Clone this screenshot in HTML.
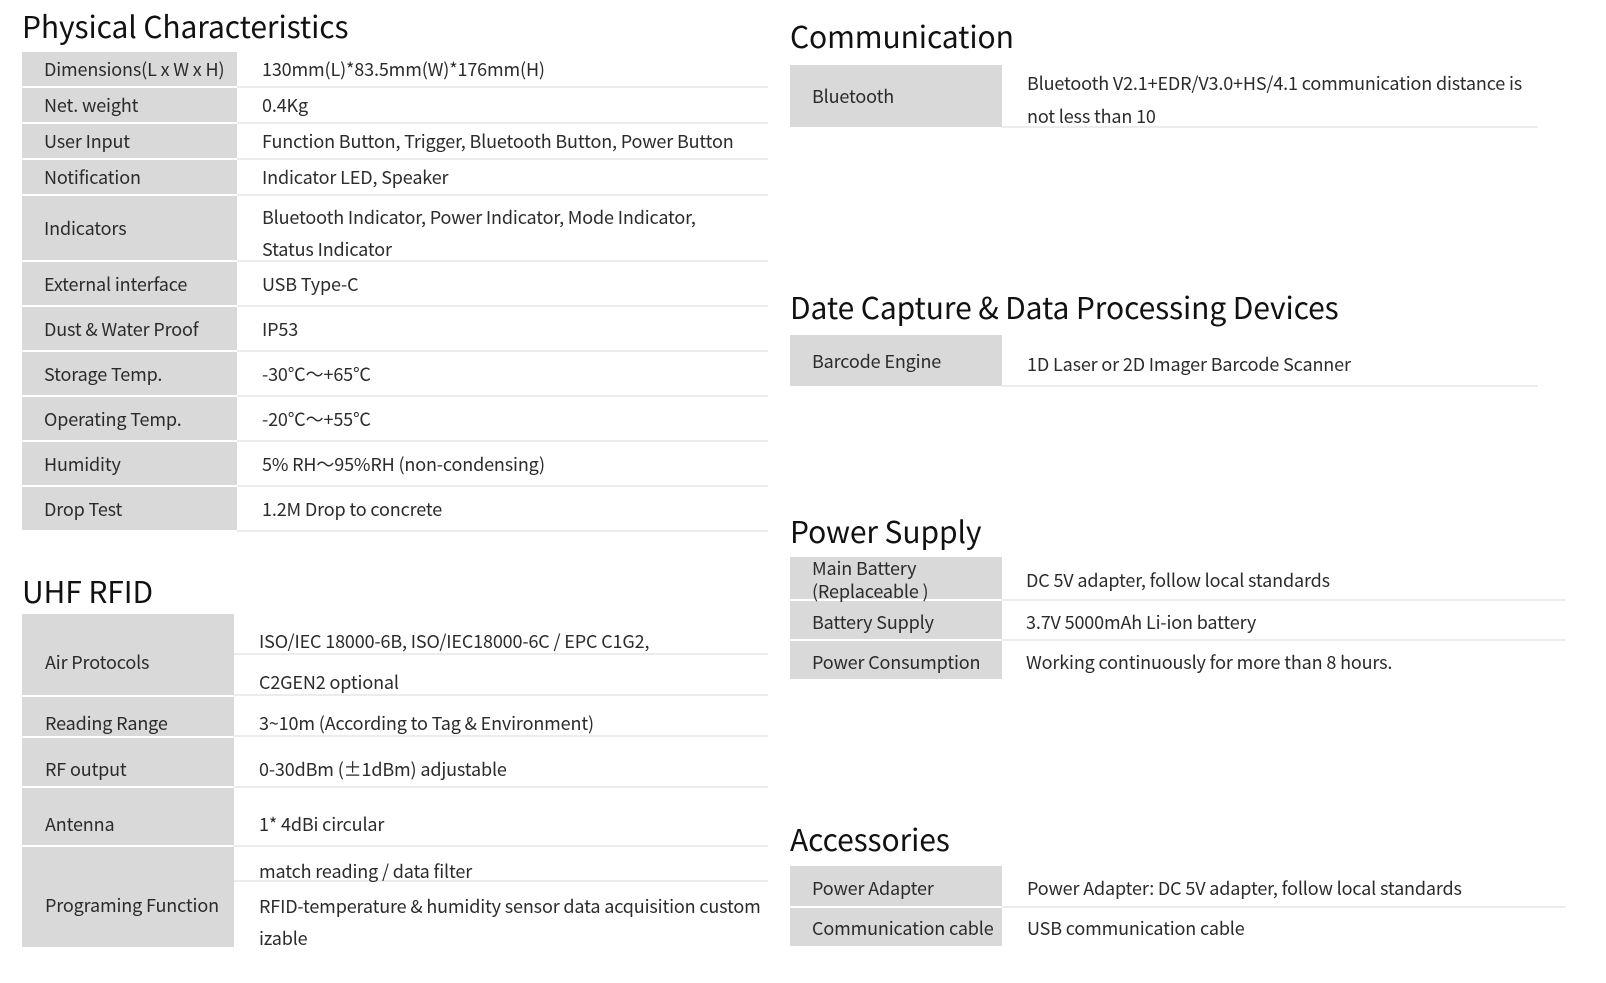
<!DOCTYPE html>
<html><head><meta charset="utf-8"><style>
body{margin:0;width:1606px;height:983px;background:#fff;position:relative;overflow:hidden;font-family:"Noto Sans CJK SC","Liberation Sans",sans-serif;color:#2b2b2b}
.g{position:absolute;background:#d9d9d9}
.ln{position:absolute;height:2px;background:#ececec}
.t{position:absolute;font-size:18px;letter-spacing:-0.15px;line-height:30px;height:30px;white-space:nowrap}
.h{position:absolute;font-size:30px;letter-spacing:-0.1px;line-height:40px;white-space:nowrap;color:#111}
</style></head><body>
<div class="h" style="left:22px;top:5px">Physical Characteristics</div>
<div class="g" style="left:22px;top:52px;width:215px;height:34px"></div>
<div class="g" style="left:22px;top:88px;width:215px;height:34px"></div>
<div class="g" style="left:22px;top:124px;width:215px;height:34px"></div>
<div class="g" style="left:22px;top:160px;width:215px;height:34px"></div>
<div class="g" style="left:22px;top:196px;width:215px;height:64px"></div>
<div class="g" style="left:22px;top:262px;width:215px;height:43px"></div>
<div class="g" style="left:22px;top:307px;width:215px;height:43px"></div>
<div class="g" style="left:22px;top:352px;width:215px;height:43px"></div>
<div class="g" style="left:22px;top:397px;width:215px;height:43px"></div>
<div class="g" style="left:22px;top:442px;width:215px;height:43px"></div>
<div class="g" style="left:22px;top:487px;width:215px;height:43px"></div>
<div class="ln" style="left:237px;top:86px;width:531px"></div>
<div class="ln" style="left:237px;top:122px;width:531px"></div>
<div class="ln" style="left:237px;top:158px;width:531px"></div>
<div class="ln" style="left:237px;top:194px;width:531px"></div>
<div class="ln" style="left:237px;top:260px;width:531px"></div>
<div class="ln" style="left:237px;top:305px;width:531px"></div>
<div class="ln" style="left:237px;top:350px;width:531px"></div>
<div class="ln" style="left:237px;top:395px;width:531px"></div>
<div class="ln" style="left:237px;top:440px;width:531px"></div>
<div class="ln" style="left:237px;top:485px;width:531px"></div>
<div class="ln" style="left:237px;top:530px;width:531px"></div>
<div class="t" style="left:44px;top:54px">Dimensions(L x W x H)</div><div class="t" style="left:262px;top:54px">130mm(L)*83.5mm(W)*176mm(H)</div>
<div class="t" style="left:44px;top:90px">Net. weight</div><div class="t" style="left:262px;top:90px">0.4Kg</div>
<div class="t" style="left:44px;top:126px">User Input</div><div class="t" style="left:262px;top:126px">Function Button, Trigger, Bluetooth Button, Power Button</div>
<div class="t" style="left:44px;top:162px">Notification</div><div class="t" style="left:262px;top:162px">Indicator LED, Speaker</div>
<div class="t" style="left:44px;top:213px">Indicators</div><div class="t" style="left:262px;top:202px">Bluetooth Indicator, Power Indicator, Mode Indicator,</div><div class="t" style="left:262px;top:234px">Status Indicator</div>
<div class="t" style="left:44px;top:269px">External interface</div><div class="t" style="left:262px;top:269px">USB Type-C</div>
<div class="t" style="left:44px;top:314px">Dust &amp; Water Proof</div><div class="t" style="left:262px;top:314px">IP53</div>
<div class="t" style="left:44px;top:359px">Storage Temp.</div><div class="t" style="left:262px;top:359px">-30℃～+65℃</div>
<div class="t" style="left:44px;top:404px">Operating Temp.</div><div class="t" style="left:262px;top:404px">-20℃～+55℃</div>
<div class="t" style="left:44px;top:449px">Humidity</div><div class="t" style="left:262px;top:449px">5% RH～95%RH (non-condensing)</div>
<div class="t" style="left:44px;top:494px">Drop Test</div><div class="t" style="left:262px;top:494px">1.2M Drop to concrete</div>

<div class="h" style="left:22px;top:570px">UHF RFID</div>
<div class="g" style="left:22px;top:614px;width:212px;height:81px"></div>
<div class="g" style="left:22px;top:697px;width:212px;height:39px"></div>
<div class="g" style="left:22px;top:738px;width:212px;height:48px"></div>
<div class="g" style="left:22px;top:788px;width:212px;height:57px"></div>
<div class="g" style="left:22px;top:847px;width:212px;height:100px"></div>
<div class="ln" style="left:234px;top:653px;width:534px"></div>
<div class="ln" style="left:234px;top:694px;width:534px"></div>
<div class="ln" style="left:234px;top:735px;width:534px"></div>
<div class="ln" style="left:234px;top:786px;width:534px"></div>
<div class="ln" style="left:234px;top:845px;width:534px"></div>
<div class="ln" style="left:234px;top:880px;width:534px"></div>
<div class="t" style="left:45px;top:647px">Air Protocols</div><div class="t" style="left:259px;top:626px">ISO/IEC 18000-6B, ISO/IEC18000-6C / EPC C1G2,</div><div class="t" style="left:259px;top:667px">C2GEN2 optional</div>
<div class="t" style="left:45px;top:708px">Reading Range</div><div class="t" style="left:259px;top:708px">3~10m (According to Tag &amp; Environment)</div>
<div class="t" style="left:45px;top:754px">RF output</div><div class="t" style="left:259px;top:754px">0-30dBm (±1dBm) adjustable</div>
<div class="t" style="left:45px;top:809px">Antenna</div><div class="t" style="left:259px;top:809px">1* 4dBi circular</div>
<div class="t" style="left:45px;top:890px">Programing Function</div><div class="t" style="left:259px;top:856px">match reading / data filter</div><div class="t" style="left:259px;top:891px">RFID-temperature &amp; humidity sensor data acquisition custom</div><div class="t" style="left:259px;top:923px">izable</div>

<div class="h" style="left:790px;top:15px">Communication</div>
<div class="g" style="left:790px;top:65px;width:212px;height:62px"></div>
<div class="ln" style="left:1002px;top:126px;width:536px"></div>
<div class="t" style="left:812px;top:81px">Bluetooth</div><div class="t" style="left:1027px;top:68px">Bluetooth V2.1+EDR/V3.0+HS/4.1 communication distance is</div><div class="t" style="left:1027px;top:101px">not less than 10</div>

<div class="h" style="left:790px;top:286px">Date Capture &amp; Data Processing Devices</div>
<div class="g" style="left:790px;top:335px;width:212px;height:51px"></div>
<div class="ln" style="left:1002px;top:385px;width:536px"></div>
<div class="t" style="left:812px;top:346px">Barcode Engine</div><div class="t" style="left:1027px;top:349px">1D Laser or 2D Imager Barcode Scanner</div>

<div class="h" style="left:790px;top:510px">Power Supply</div>
<div class="g" style="left:790px;top:557px;width:212px;height:42px"></div>
<div class="g" style="left:790px;top:601px;width:212px;height:38px"></div>
<div class="g" style="left:790px;top:641px;width:212px;height:38px"></div>
<div class="ln" style="left:1002px;top:599px;width:564px"></div>
<div class="ln" style="left:1002px;top:639px;width:564px"></div>
<div class="t" style="left:812px;top:557px;line-height:23px">Main Battery</div><div class="t" style="left:812px;top:580px;line-height:23px">(Replaceable )</div><div class="t" style="left:1026px;top:565px">DC 5V adapter, follow local standards</div>
<div class="t" style="left:812px;top:607px">Battery Supply</div><div class="t" style="left:1026px;top:607px">3.7V 5000mAh Li-ion battery</div>
<div class="t" style="left:812px;top:647px">Power Consumption</div><div class="t" style="left:1026px;top:647px">Working continuously for more than 8 hours.</div>

<div class="h" style="left:790px;top:818px">Accessories</div>
<div class="g" style="left:790px;top:866px;width:212px;height:40px"></div>
<div class="g" style="left:790px;top:908px;width:212px;height:38px"></div>
<div class="ln" style="left:1002px;top:906px;width:564px"></div>
<div class="t" style="left:812px;top:873px">Power Adapter</div><div class="t" style="left:1027px;top:873px">Power Adapter: DC 5V adapter, follow local standards</div>
<div class="t" style="left:812px;top:913px">Communication cable</div><div class="t" style="left:1027px;top:913px">USB communication cable</div>
</body></html>
